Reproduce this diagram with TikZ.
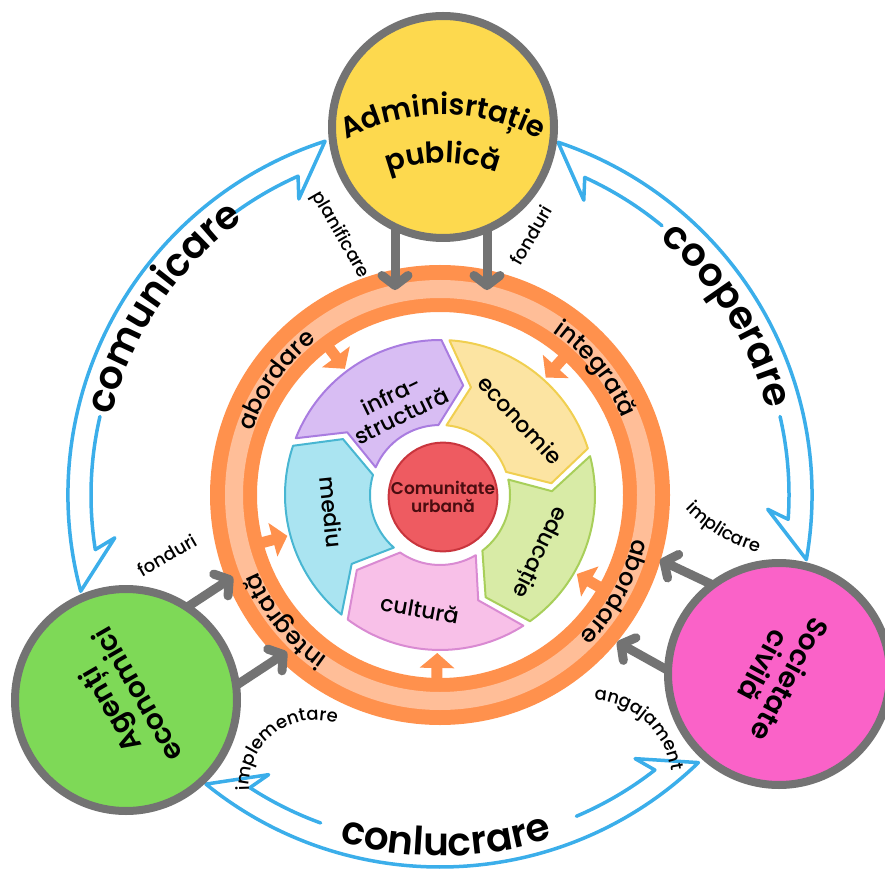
\documentclass[tikz,border=0pt]{standalone}
\usepackage{fontspec}
\setmainfont{Poppins}[BoldFont={Poppins SemiBold}]
\newfontfamily\medfont{Poppins Medium}
\usetikzlibrary{arrows.meta,decorations.text}
\definecolor{bl}{HTML}{3BAEEA}
\definecolor{gr}{HTML}{737373}
\definecolor{yel}{HTML}{FDD94E}
\definecolor{grn}{HTML}{7ED957}
\definecolor{pnk}{HTML}{FA62C8}
\definecolor{orD}{HTML}{FF914D}
\definecolor{orL}{HTML}{FFBE98}
\definecolor{purF}{HTML}{D8BDF3}\definecolor{purD}{HTML}{A97CE0}
\definecolor{yelF}{HTML}{FCE4A2}\definecolor{yelD}{HTML}{F0CF50}
\definecolor{grnF}{HTML}{D8EBA6}\definecolor{grnD}{HTML}{A8CF5A}
\definecolor{pnkF}{HTML}{F8C0E8}\definecolor{pnkD}{HTML}{D98AD2}
\definecolor{cyaF}{HTML}{AAE4F1}\definecolor{cyaD}{HTML}{48B6D2}
\definecolor{redF}{HTML}{EE5B61}\definecolor{redD}{HTML}{C9353D}
\definecolor{redT}{HTML}{4A0D10}
\newcommand{\segshape}[3]{%
  \pgfmathsetmacro\bA{#1}\pgfmathsetmacro\bB{#1-72}%
  \filldraw[fill=#2,draw=#3,line width=2,line join=round]
   ({\bA-asin(4/155)}:155) arc[start angle={\bA-asin(4/155)}, end angle={\bB+asin(4/155)}, radius=155]
   -- ({\bB-12+asin(4/112)}:112)
   -- ({\bB+asin(4/70)}:70)
   arc[start angle={\bB+asin(4/70)}, end angle={\bA-asin(4/70)}, radius=70]
   -- ({\bA-12-asin(4/112)}:112) -- cycle;}
\tikzset{
  bluel/.style={draw=bl,line width=3.5,line join=round,line cap=round},
  grayarrow/.style={draw=gr,line width=9,-{Straight Barb[length=10pt,width=26pt,round]}},
  orarrow/.style={draw=orD,line width=11,-{Triangle[length=15pt,width=34pt]}},
  actor/.style={circle,draw=gr,line width=8,minimum size=222,inner sep=0},
  actortext/.style={align=center,font=\bfseries\fontsize{28}{30}\selectfont},
  segtext/.style={align=center,font=\medfont\fontsize{22}{23}\selectfont},
  small/.style={font=\medfont\fontsize{18}{18}\selectfont},
  curv/.style={decorate,decoration={text along path,text align=center,text={#1}}}
}
\begin{document}
\begin{tikzpicture}[x=1pt,y=1pt]
\useasboundingbox (0,0) rectangle (885,871);
\begin{scope}[shift={(440,376)}]
  % blue double arrows
  \draw[bluel] (189:349) -- (187.5:328) -- (195:372) arc[start angle=195,end angle=108,radius=372]
     -- (115.5:328) -- (114:349) arc[start angle=114,end angle=126,radius=349];
  \draw[bluel] (167:349) arc[start angle=167,end angle=189,radius=349];
  \draw[bluel] (65.5:349) -- (64:328) -- (71.5:372) arc[start angle=71.5,end angle=-10,radius=372]
     -- (-2.5:328) -- (-4:349) arc[start angle=-4,end angle=13,radius=349];
  \draw[bluel] (50.5:349) arc[start angle=50.5,end angle=65.5,radius=349];
  \draw[bluel] (237:349) -- (238.5:328) -- (231:372) arc[start angle=231,end angle=314,radius=372]
     -- (306.5:328) -- (308:349) arc[start angle=308,end angle=293,radius=349];
  \draw[bluel] (237:349) arc[start angle=237,end angle=250,radius=349];
  \path[curv={|\bfseries\fontsize{39}{39}\selectfont|comunicare}] (190:338) arc[start angle=190,end angle=102,radius=338];
  \path[curv={|\bfseries\fontsize{39}{39}\selectfont|cooperare}] (76:338) arc[start angle=76,end angle=-12,radius=338];
  \path[curv={|\bfseries\fontsize{39}{39}\selectfont|conlucrare}] (226:361) arc[start angle=226,end angle=316,radius=361];
  % orange ring
  \draw[orD,line width=47] (0,0) circle[radius=206.5];
  \draw[orL,line width=18] (0,0) circle[radius=206];
  \path[curv={|\medfont\fontsize{24}{24}\selectfont|abordare}] (180:198) arc[start angle=180,end angle=110,radius=198];
  \path[curv={|\medfont\fontsize{24}{24}\selectfont|integrată}] (74:198) arc[start angle=74,end angle=4,radius=198];
  \path[curv={|\medfont\fontsize{24}{24}\selectfont|abordare}] (6:198) arc[start angle=6,end angle=-64,radius=198];
  \path[curv={|\medfont\fontsize{24}{24}\selectfont|integrată}] (254:198) arc[start angle=254,end angle=184,radius=198];
  \foreach \a in {127,48,-30,-91,195} \draw[orarrow] (\a:185) -- (\a:158);
  % segments
  \segshape{232}{cyaF}{cyaD}
  \segshape{160}{purF}{purD}
  \segshape{88}{yelF}{yelD}
  \segshape{16}{grnF}{grnD}
  \segshape{-56}{pnkF}{pnkD}
  \node[segtext,rotate=-84] (mediu) at (189:110) {mediu};
  \node[segtext,rotate=26] (infra) at (116:100) {infra-\\structură};
  \node[segtext,rotate=-47] (econ) at (43:110) {economie};
  \node[segtext,rotate=-116] (edu) at (-30:114) {educație};
  \node[segtext,rotate=-10] (cult) at (-100:116) {cultură};
  \node[circle,fill=redF,draw=redD,line width=2,minimum size=106,inner sep=0,align=center,
        text=redT,font=\bfseries\fontsize{17}{18}\selectfont] (urban) at (3,-2) {Comunitate\\urbană};
\end{scope}
% gray arrows
\coordinate (a1s) at (395,671); \coordinate (a1e) at (395,581);
\coordinate (a2s) at (487,671); \coordinate (a2e) at (487,581);
\coordinate (g1s) at (166,250); \coordinate (g1e) at (233,294);
\coordinate (g2s) at (220,175); \coordinate (g2e) at (287,219);
\coordinate (p1s) at (732,277); \coordinate (p1e) at (660,311);
\coordinate (p2s) at (687,190); \coordinate (p2e) at (617,229);
\foreach \s/\e in {a1s/a1e,a2s/a2e,g1s/g1e,g2s/g2e,p1s/p1e,p2s/p2e} \draw[grayarrow] (\s) -- (\e);
% actors
\node[actor,fill=yel] (admin) at (443,744) {};
\node[actor,fill=grn] (agenti) at (126,171) {};
\node[actor,fill=pnk] (soc) at (779,197) {};
\path[curv={|\bfseries\fontsize{29}{29}\selectfont|Adminisrtație}] ([shift={(160:200)}]443,556) arc[start angle=160,end angle=20,radius=200];
\path[curv={|\bfseries\fontsize{29}{29}\selectfont|publică}] ([shift={(140:152)}]443,556) arc[start angle=140,end angle=40,radius=152];
\node[actortext,rotate=120] (agtext) at (123,168) {Agenți\\economici};
\node[actortext,rotate=-118] (soctext) at (777,198) {Societate\\civilă};
% small labels
\node[small,rotate=-60] (plan) at (340,636) {planificare};
\node[small,rotate=60] (fond1) at (531,636) {fonduri};
\node[small,rotate=30] (fond2) at (167,316) {fonduri};
\path[curv={|\medfont\fontsize{18}{18}\selectfont|implementare}] ([shift={(205:66)}]315,85) arc[start angle=205,end angle=50,radius=66];
\path[curv={|\medfont\fontsize{18}{18}\selectfont|angajament}] ([shift={(105:82)}]590,89) arc[start angle=105,end angle=-10,radius=82];
\path[curv={|\medfont\fontsize{18}{18}\selectfont|implicare}] ([shift={(210:158)}]800,471) arc[start angle=210,end angle=268,radius=158];
\end{tikzpicture}
\end{document}
